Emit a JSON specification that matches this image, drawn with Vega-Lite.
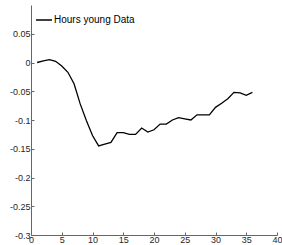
{
  "$schema": "https://vega.github.io/schema/vega-lite/v6.json",
  "width": 246,
  "height": 230,
  "autosize": {"type": "none"},
  "padding": {"left": 31, "top": 5, "right": 5, "bottom": 10},
  "background": "white",
  "config": {
    "view": {"stroke": null},
    "font": "Liberation Sans",
    "axis": {
      "grid": false,
      "domainColor": "#666666",
      "domainWidth": 1,
      "tickColor": "#666666",
      "tickSize": -3,
      "labelFont": "Liberation Sans",
      "labelFontSize": 9,
      "labelColor": "#262626",
      "title": null
    }
  },
  "data": {
    "values": [
      {"t": 1, "v": 0.0, "series": "Hours young Data"},
      {"t": 2, "v": 0.003, "series": "Hours young Data"},
      {"t": 3, "v": 0.005, "series": "Hours young Data"},
      {"t": 4, "v": 0.002, "series": "Hours young Data"},
      {"t": 5, "v": -0.006, "series": "Hours young Data"},
      {"t": 6, "v": -0.017, "series": "Hours young Data"},
      {"t": 7, "v": -0.037, "series": "Hours young Data"},
      {"t": 8, "v": -0.072, "series": "Hours young Data"},
      {"t": 9, "v": -0.101, "series": "Hours young Data"},
      {"t": 10, "v": -0.127, "series": "Hours young Data"},
      {"t": 11, "v": -0.145, "series": "Hours young Data"},
      {"t": 12, "v": -0.142, "series": "Hours young Data"},
      {"t": 13, "v": -0.139, "series": "Hours young Data"},
      {"t": 14, "v": -0.122, "series": "Hours young Data"},
      {"t": 15, "v": -0.122, "series": "Hours young Data"},
      {"t": 16, "v": -0.125, "series": "Hours young Data"},
      {"t": 17, "v": -0.125, "series": "Hours young Data"},
      {"t": 18, "v": -0.114, "series": "Hours young Data"},
      {"t": 19, "v": -0.121, "series": "Hours young Data"},
      {"t": 20, "v": -0.117, "series": "Hours young Data"},
      {"t": 21, "v": -0.107, "series": "Hours young Data"},
      {"t": 22, "v": -0.107, "series": "Hours young Data"},
      {"t": 23, "v": -0.1, "series": "Hours young Data"},
      {"t": 24, "v": -0.096, "series": "Hours young Data"},
      {"t": 25, "v": -0.098, "series": "Hours young Data"},
      {"t": 26, "v": -0.1, "series": "Hours young Data"},
      {"t": 27, "v": -0.091, "series": "Hours young Data"},
      {"t": 28, "v": -0.091, "series": "Hours young Data"},
      {"t": 29, "v": -0.091, "series": "Hours young Data"},
      {"t": 30, "v": -0.078, "series": "Hours young Data"},
      {"t": 31, "v": -0.071, "series": "Hours young Data"},
      {"t": 32, "v": -0.063, "series": "Hours young Data"},
      {"t": 33, "v": -0.052, "series": "Hours young Data"},
      {"t": 34, "v": -0.053, "series": "Hours young Data"},
      {"t": 35, "v": -0.057, "series": "Hours young Data"},
      {"t": 36, "v": -0.052, "series": "Hours young Data"}
    ]
  },
  "mark": {"type": "line", "strokeWidth": 1.3},
  "encoding": {
    "x": {
      "field": "t",
      "type": "quantitative",
      "scale": {"domain": [0, 40], "nice": false, "zero": false},
      "axis": {"values": [0, 5, 10, 15, 20, 25, 30, 35, 40], "labelPadding": 3, "labelFlush": false}
    },
    "y": {
      "field": "v",
      "type": "quantitative",
      "scale": {"domain": [-0.3, 0.1], "nice": false, "zero": false},
      "axis": {
        "values": [-0.3, -0.25, -0.2, -0.15, -0.1, -0.05, 0, 0.05],
        "labelExpr": "'' + datum.value",
        "labelPadding": 4,
        "labelFlush": false
      }
    },
    "color": {
      "field": "series",
      "type": "nominal",
      "scale": {"range": ["black"]},
      "legend": {
        "title": null,
        "orient": "none",
        "legendX": 4,
        "legendY": 6,
        "padding": 0,
        "symbolType": "stroke",
        "symbolSize": 256,
        "symbolStrokeWidth": 1.5,
        "symbolOffset": 0,
        "labelFont": "Liberation Sans",
        "labelFontSize": 10,
        "labelColor": "black",
        "labelOffset": 1
      }
    }
  }
}
